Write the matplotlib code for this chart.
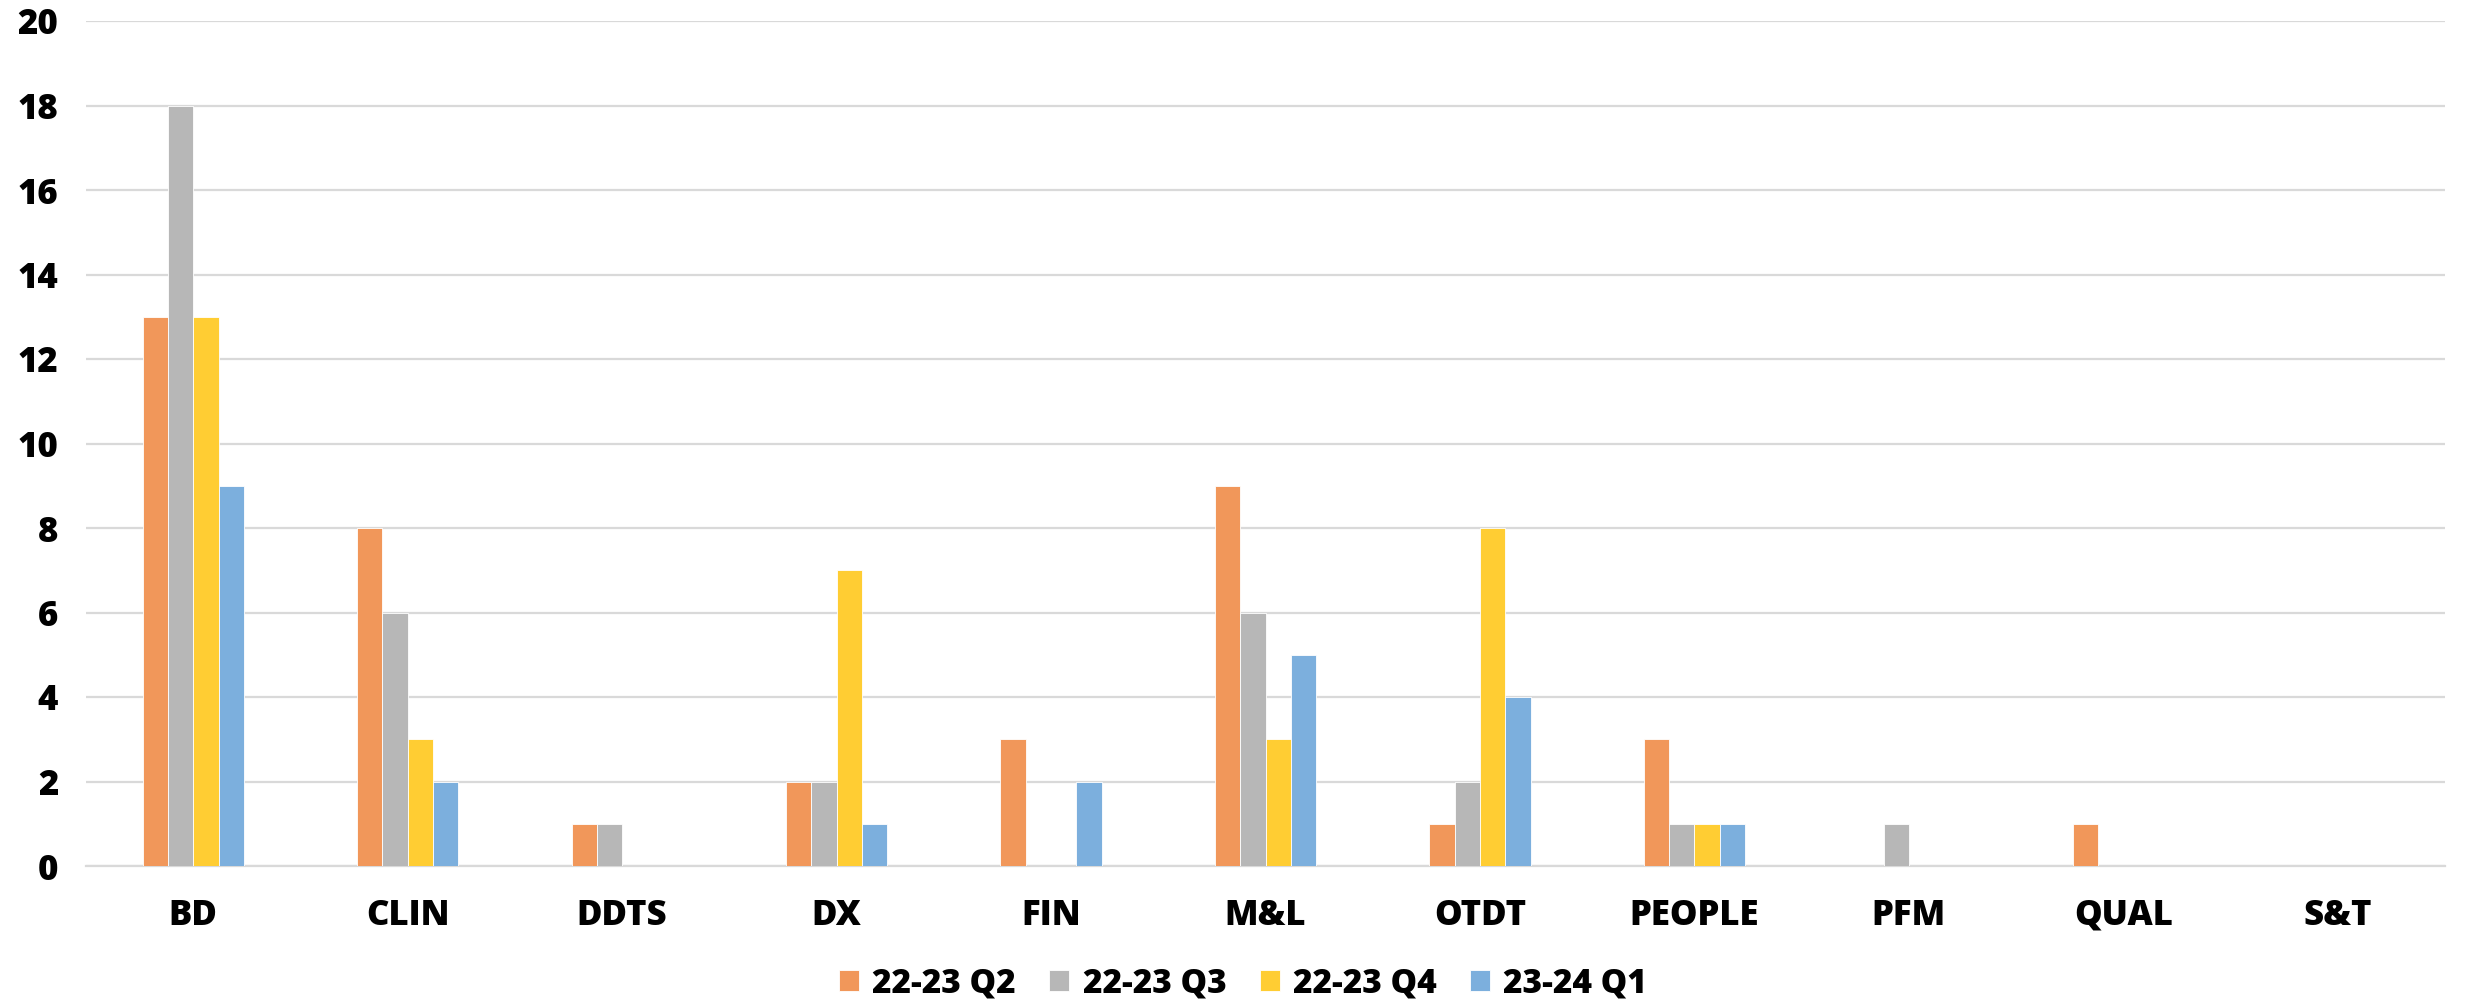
import matplotlib
matplotlib.use("Agg")
import matplotlib.pyplot as plt
import numpy as np

categories = ["BD", "CLIN", "DDTS", "DX", "FIN", "M&L", "OTDT", "PEOPLE", "PFM", "QUAL", "S&T"]
series_names = ["22-23 Q2", "22-23 Q3", "22-23 Q4", "23-24 Q1"]
q2_2223 = [13, 8, 1, 2, 3, 9, 1, 3, 0, 1, 0]
q3_2223 = [18, 6, 1, 2, 0, 6, 2, 1, 1, 0, 0]
q4_2223 = [13, 3, 0, 7, 0, 3, 8, 1, 0, 0, 0]
q1_2324 = [9, 2, 0, 1, 2, 5, 4, 1, 0, 0, 0]
yticks = [0, 2, 4, 6, 8, 10, 12, 14, 16, 18, 20]

colors = ["#F1975A", "#B7B7B7", "#FFCD33", "#7CAFDD"]

plt.rcParams['font.family'] = ['Open Sans', 'DejaVu Sans']
W = 800

fig = plt.figure(figsize=(24.68, 10), dpi=100)
ax = fig.add_axes([86/2468, 1-866/1000, (2445-86)/2468, (866-21)/1000])

x = np.arange(len(categories))
bw = 0.118
data = [q2_2223, q3_2223, q4_2223, q1_2324]
for i, (vals, name, c) in enumerate(zip(data, series_names, colors)):
    ax.bar(x + (i - 1.5) * bw, vals, width=bw, color=c, label=name,
           edgecolor="white", linewidth=0.6, zorder=3)

ax.set_xlim(-0.5, len(categories) - 0.5)
ax.set_ylim(0, 20)
ax.set_yticks(yticks)
ax.set_xticks(x)
ax.set_xticklabels(categories)
ax.grid(axis="y", color="#D9D9D9", linewidth=1.6, zorder=0)
ax.set_axisbelow(True)
for s in ["top", "right", "left"]:
    ax.spines[s].set_visible(False)
ax.spines["bottom"].set_color("#D9D9D9")
ax.spines["bottom"].set_linewidth(1.6)
ax.tick_params(axis="both", length=0, labelsize=25)
ax.tick_params(axis="x", pad=23)
ax.tick_params(axis="y", pad=20)
for lab in ax.get_xticklabels() + ax.get_yticklabels():
    lab.set_fontweight(W)

leg = fig.legend(loc="center", bbox_to_anchor=(1243/2468, 1-983/1000), ncol=4,
                 frameon=False, fontsize=24, handlelength=0.6, handleheight=0.6,
                 handletextpad=0.4, columnspacing=1.0)
for t in leg.get_texts():
    t.set_fontweight(W)

fig.savefig("out.png", dpi=100, facecolor="white")
